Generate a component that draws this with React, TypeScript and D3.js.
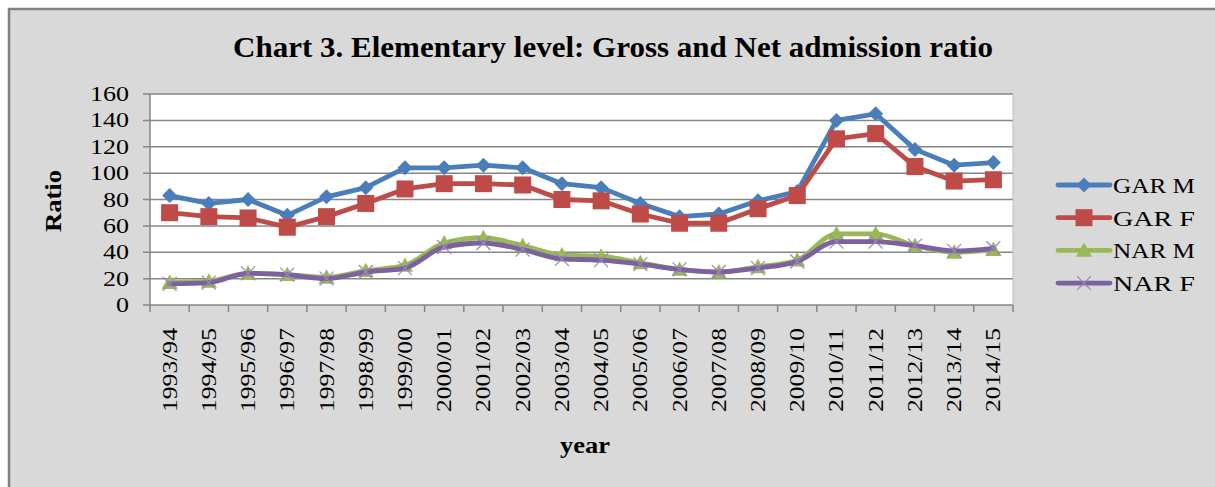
import React from "react";
import * as d3 from "d3";

const categories = ["1993/94","1994/95","1995/96","1996/97","1997/98","1998/99","1999/00","2000/01","2001/02","2002/03","2003/04","2004/05","2005/06","2006/07","2007/08","2008/09","2009/10","2010/11","2011/12","2012/13","2013/14","2014/15"];
const garM = [83, 77, 80, 68, 82, 89, 104, 104, 106, 104, 92, 89, 77, 67, 69, 79, 86, 140, 145, 118, 106, 108];
const garF = [70, 67, 66, 59, 67, 77, 88, 92, 92, 91, 80, 79, 69, 62, 62, 73, 83, 126, 130, 105, 94, 95];
const narM = [17, 18, 24, 23, 21, 26, 30, 47, 51, 45, 38, 37, 32, 27, 25, 29, 34, 54, 54, 45, 40, 42];
const narF = [16, 17, 24, 23, 20, 25, 28, 44, 47, 42, 35, 34, 31, 27, 25, 28, 33, 48, 48, 45, 41, 43];
const yTicks = [0, 20, 40, 60, 80, 100, 120, 140, 160];
const seriesNames = ["GAR M", "GAR F", "NAR M", "NAR F"];
const seriesColors = ["#4a7ebb", "#be4b48", "#98b954", "#7d60a0"];
const title = "Chart 3. Elementary level: Gross and Net admission ratio";

const W = 1215, H = 487;
const plot = { left: 150, right: 1013, top: 94, bottom: 305 };
const serif = "'Liberation Serif', 'Times New Roman', serif";

function Marker({ kind, x, y, color }: { kind: number; x: number; y: number; color: string }) {
  if (kind === 0) {
    const s = 7.5;
    return <path d={`M${x},${y - s}L${x + s},${y}L${x},${y + s}L${x - s},${y}Z`} fill={color} />;
  }
  if (kind === 1) {
    const s = 8.5;
    return <rect x={x - s} y={y - s} width={2 * s} height={2 * s} fill={color} />;
  }
  if (kind === 2) {
    const s = 8;
    return <path d={`M${x},${y - s}L${x + s},${y + s * 0.8}L${x - s},${y + s * 0.8}Z`} fill={color} />;
  }
  const s = 7;
  return (
    <g stroke="#9b85c0" strokeWidth={1.2}>
      <line x1={x - s} y1={y - s} x2={x + s} y2={y + s} />
      <line x1={x - s} y1={y + s} x2={x + s} y2={y - s} />
    </g>
  );
}

export default function App() {
  const x = d3.scaleBand<string>().domain(categories).range([plot.left, plot.right]);
  const y = d3.scaleLinear().domain([0, 160]).range([plot.bottom, plot.top]);
  const data = [garM, garF, narM, narF];
  const cx = (c: string) => (x(c) as number) + x.bandwidth() / 2;

  const lineGen = (smooth: boolean) =>
    d3
      .line<number>()
      .x((_, i) => cx(categories[i]))
      .y((d) => y(d))
      .curve(smooth ? d3.curveMonotoneX : d3.curveLinear);

  const boundaries = d3.range(categories.length + 1).map((i) => plot.left + i * x.step());

  return (
    <svg width={W} height={H} style={{ position: "absolute", left: 0, top: 0, display: "block" }}>
      <rect x={0} y={0} width={W} height={H} fill="#ffffff" />
      <rect x={8} y={8} width={W - 8} height={H - 8} fill="#d9d9d9" />
      <line x1={8} y1={9} x2={W} y2={9} stroke="#808080" strokeWidth={2.5} />
      <line x1={9} y1={8} x2={9} y2={H} stroke="#808080" strokeWidth={2.5} />

      <text x={613} y={57} textAnchor="middle" fontFamily={serif} fontWeight="bold" fontSize={29}
        textLength={760} lengthAdjust="spacingAndGlyphs" fill="#000">{title}</text>

      <rect x={plot.left} y={plot.top} width={plot.right - plot.left} height={plot.bottom - plot.top} fill="#ffffff" />
      {yTicks.map((t) => (
        <g key={t}>
          <line x1={plot.left - 7} x2={plot.right} y1={y(t)} y2={y(t)} stroke="#868686" strokeWidth={1.5} />
          <text x={129} y={y(t) + 7} textAnchor="end" fontFamily={serif} fontSize={21}
            textLength={String(t).length * 13} lengthAdjust="spacingAndGlyphs" fill="#000">{t}</text>
        </g>
      ))}
      <line x1={plot.left} x2={plot.left} y1={plot.top} y2={plot.bottom} stroke="#868686" strokeWidth={1.5} />
      <line x1={plot.right} x2={plot.right} y1={plot.top} y2={plot.bottom} stroke="#bdbdbd" strokeWidth={1} />
      {boundaries.map((bx, i) => (
        <line key={i} x1={bx} x2={bx} y1={plot.bottom} y2={plot.bottom + 7} stroke="#868686" strokeWidth={1.5} />
      ))}
      {categories.map((c) => (
        <text key={c} transform={`translate(${cx(c) + 7},328) rotate(-90)`} textAnchor="end"
          fontFamily={serif} fontSize={20} textLength={84} lengthAdjust="spacingAndGlyphs" fill="#000">{c}</text>
      ))}

      <text transform="translate(61,201) rotate(-90)" textAnchor="middle" fontFamily={serif} fontWeight="bold"
        fontSize={24} textLength={62} lengthAdjust="spacingAndGlyphs" fill="#000">Ratio</text>
      <text x={585} y={453} textAnchor="middle" fontFamily={serif} fontWeight="bold" fontSize={24}
        textLength={50} lengthAdjust="spacingAndGlyphs" fill="#000">year</text>

      {data.map((vals, si) => (
        <g key={si}>
          <path d={lineGen(si >= 2)(vals) || ""} fill="none" stroke={seriesColors[si]} strokeWidth={4.8}
            strokeLinejoin="round" strokeLinecap="round" />
          {vals.map((v, i) => (
            <Marker key={i} kind={si} x={cx(categories[i])} y={y(v)} color={seriesColors[si]} />
          ))}
        </g>
      ))}

      {seriesNames.map((n, i) => {
        const ly = 185 + i * 32.7;
        return (
          <g key={n}>
            <line x1={1058} x2={1110} y1={ly} y2={ly} stroke={seriesColors[i]} strokeWidth={4.8} strokeLinecap="round" />
            <Marker kind={i} x={1084} y={ly} color={seriesColors[i]} />
            <text x={1113} y={ly + 8} fontFamily={serif} fontSize={22} textLength={n.length * 16.4}
              lengthAdjust="spacingAndGlyphs" fill="#000">{n}</text>
          </g>
        );
      })}
    </svg>
  );
}
